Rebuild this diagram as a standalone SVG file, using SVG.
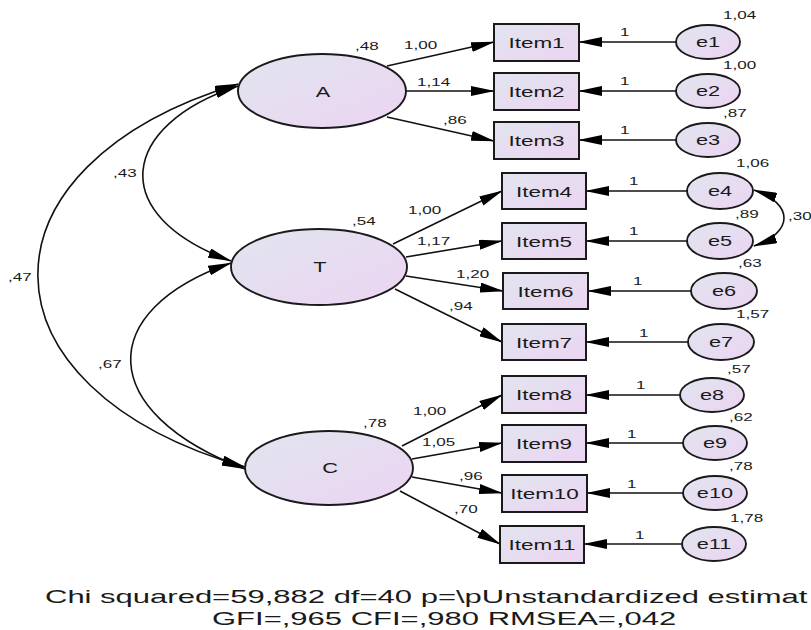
<svg xmlns="http://www.w3.org/2000/svg" width="811" height="630" viewBox="0 0 811 630">
<style>
text{font-family:"Liberation Sans",Arial,sans-serif;fill:#1a1a1a}
.s{font-size:11px}
.m{font-size:15px;text-anchor:middle}
.b{font-size:19px}
.box{fill:url(#g);stroke:#1a1a1a;stroke-width:2}
.lat{fill:url(#g);stroke:#1a1a1a;stroke-width:1.9}
.con path,.con line{fill:none;stroke:#111;stroke-width:1.6}
.one{marker-end:url(#ah)}
.two{marker-end:url(#ah);marker-start:url(#ah)}
</style>
<defs>
<linearGradient id="g" x1="0" y1="0" x2="1" y2="1">
<stop offset="0" stop-color="#e1e5ee"/>
<stop offset="1" stop-color="#ecd4f3"/>
</linearGradient>
<marker id="ah" viewBox="0 0 24 10" refX="23" refY="5" markerWidth="24" markerHeight="10" markerUnits="userSpaceOnUse" orient="auto-start-reverse">
<path d="M0,0 L24,5 L0,10 z" fill="#000"/>
</marker>
</defs>
<rect width="811" height="630" fill="#fff"/>

<g id="connectors" class="con">
<line class="one" x1="387" y1="66" x2="494" y2="42"/>
<line class="one" x1="406" y1="91" x2="494" y2="91"/>
<line class="one" x1="387" y1="117" x2="494" y2="141"/>
<line class="one" x1="393" y1="244" x2="502" y2="191"/>
<line class="one" x1="406" y1="257" x2="502" y2="241"/>
<line class="one" x1="406" y1="276" x2="503" y2="291"/>
<line class="one" x1="395" y1="289" x2="502" y2="342"/>
<line class="one" x1="402" y1="446" x2="502" y2="395"/>
<line class="one" x1="412" y1="459" x2="502" y2="443"/>
<line class="one" x1="412" y1="477" x2="502" y2="493"/>
<line class="one" x1="400" y1="491" x2="500" y2="544"/>
<line class="one" x1="676" y1="42" x2="579" y2="42"/>
<line class="one" x1="676" y1="91" x2="579" y2="91"/>
<line class="one" x1="676" y1="140" x2="579" y2="140"/>
<line class="one" x1="687" y1="191" x2="586" y2="191"/>
<line class="one" x1="687" y1="241" x2="586" y2="241"/>
<line class="one" x1="692" y1="291" x2="588" y2="291"/>
<line class="one" x1="688" y1="342" x2="586" y2="342"/>
<line class="one" x1="680" y1="395" x2="586" y2="395"/>
<line class="one" x1="683" y1="443" x2="586" y2="443"/>
<line class="one" x1="683" y1="493" x2="587" y2="493"/>
<line class="one" x1="682" y1="544" x2="584" y2="544"/>
<path class="two" d="M238,86 C120,125 105,215 231,261"/>
<path class="two" d="M238,84 C-30,165 -30,388 245,467"/>
<path class="two" d="M231,263 C95,310 95,412 245,469"/>
<path class="two" d="M754,190 C794,204 794,232 754,246"/>
<text class="s" transform="matrix(1.55 0 0 1 404 49)">1,00</text>
<text class="s" transform="matrix(1.55 0 0 1 417 86)">1,14</text>
<text class="s" transform="matrix(1.55 0 0 1 443 124)">,86</text>
<text class="s" transform="matrix(1.55 0 0 1 408 214)">1,00</text>
<text class="s" transform="matrix(1.55 0 0 1 417 245)">1,17</text>
<text class="s" transform="matrix(1.55 0 0 1 456 278)">1,20</text>
<text class="s" transform="matrix(1.55 0 0 1 449 310)">,94</text>
<text class="s" transform="matrix(1.55 0 0 1 413 415)">1,00</text>
<text class="s" transform="matrix(1.55 0 0 1 422 446)">1,05</text>
<text class="s" transform="matrix(1.55 0 0 1 459 480)">,96</text>
<text class="s" transform="matrix(1.55 0 0 1 454 513)">,70</text>
<text class="s" transform="matrix(1.55 0 0 1 620 36)">1</text>
<text class="s" transform="matrix(1.55 0 0 1 620 85)">1</text>
<text class="s" transform="matrix(1.55 0 0 1 620 134)">1</text>
<text class="s" transform="matrix(1.55 0 0 1 629 185)">1</text>
<text class="s" transform="matrix(1.55 0 0 1 629 235)">1</text>
<text class="s" transform="matrix(1.55 0 0 1 633 285)">1</text>
<text class="s" transform="matrix(1.55 0 0 1 639 337)">1</text>
<text class="s" transform="matrix(1.55 0 0 1 636 389)">1</text>
<text class="s" transform="matrix(1.55 0 0 1 627 438)">1</text>
<text class="s" transform="matrix(1.55 0 0 1 627 488)">1</text>
<text class="s" transform="matrix(1.55 0 0 1 635 539)">1</text>
<text class="s" transform="matrix(1.55 0 0 1 113 177)">,43</text>
<text class="s" transform="matrix(1.55 0 0 1 8 281)">,47</text>
<text class="s" transform="matrix(1.55 0 0 1 98 368)">,67</text>
<text class="s" transform="matrix(1.55 0 0 1 788 220)">,30</text>
</g>

<g id="A"><ellipse class="lat" cx="322" cy="91" rx="84" ry="37"/><text class="m" transform="matrix(1.45 0 0 1 323 97)">A</text><text class="s" transform="matrix(1.55 0 0 1 355 50)">,48</text></g>
<g id="T"><ellipse class="lat" cx="319" cy="267" rx="88" ry="38"/><text class="m" transform="matrix(1.45 0 0 1 320 272)">T</text><text class="s" transform="matrix(1.55 0 0 1 352 225)">,54</text></g>
<g id="C"><ellipse class="lat" cx="329" cy="468" rx="84" ry="37"/><text class="m" transform="matrix(1.45 0 0 1 330 473)">C</text><text class="s" transform="matrix(1.55 0 0 1 363 427)">,78</text></g>

<g id="Item1"><rect class="box" x="494" y="24" width="85" height="37"/><text class="m" transform="matrix(1.5 0 0 1 536.5 48)">Item1</text></g>
<g id="Item2"><rect class="box" x="494" y="73" width="85" height="37"/><text class="m" transform="matrix(1.5 0 0 1 536.5 97)">Item2</text></g>
<g id="Item3"><rect class="box" x="494" y="122" width="85" height="37"/><text class="m" transform="matrix(1.5 0 0 1 536.5 146)">Item3</text></g>
<g id="Item4"><rect class="box" x="502" y="173" width="84" height="36"/><text class="m" transform="matrix(1.5 0 0 1 544 197)">Item4</text></g>
<g id="Item5"><rect class="box" x="502" y="223" width="84" height="36"/><text class="m" transform="matrix(1.5 0 0 1 544 247)">Item5</text></g>
<g id="Item6"><rect class="box" x="503" y="273" width="85" height="36"/><text class="m" transform="matrix(1.5 0 0 1 545.5 297)">Item6</text></g>
<g id="Item7"><rect class="box" x="502" y="324" width="84" height="36"/><text class="m" transform="matrix(1.5 0 0 1 544 348)">Item7</text></g>
<g id="Item8"><rect class="box" x="502" y="376" width="84" height="37"/><text class="m" transform="matrix(1.5 0 0 1 544 400)">Item8</text></g>
<g id="Item9"><rect class="box" x="502" y="425" width="84" height="37"/><text class="m" transform="matrix(1.5 0 0 1 544 449)">Item9</text></g>
<g id="Item10"><rect class="box" x="502" y="475" width="85" height="37"/><text class="m" transform="matrix(1.5 0 0 1 544.5 499)">Item10</text></g>
<g id="Item11"><rect class="box" x="500" y="526" width="84" height="37"/><text class="m" transform="matrix(1.5 0 0 1 542 550)">Item11</text></g>

<g id="e1"><ellipse class="lat" cx="708" cy="42" rx="32" ry="17"/><text class="m" transform="matrix(1.45 0 0 1 708 47)">e1</text><text class="s" transform="matrix(1.55 0 0 1 723 19)">1,04</text></g>
<g id="e2"><ellipse class="lat" cx="708" cy="91" rx="32" ry="17"/><text class="m" transform="matrix(1.45 0 0 1 708 96)">e2</text><text class="s" transform="matrix(1.55 0 0 1 723 69)">1,00</text></g>
<g id="e3"><ellipse class="lat" cx="708" cy="140" rx="32" ry="17"/><text class="m" transform="matrix(1.45 0 0 1 708 145)">e3</text><text class="s" transform="matrix(1.55 0 0 1 723 117)">,87</text></g>
<g id="e4"><ellipse class="lat" cx="720" cy="191" rx="33" ry="18"/><text class="m" transform="matrix(1.45 0 0 1 720 196)">e4</text><text class="s" transform="matrix(1.55 0 0 1 736 167)">1,06</text></g>
<g id="e5"><ellipse class="lat" cx="720" cy="241" rx="33" ry="18"/><text class="m" transform="matrix(1.45 0 0 1 720 246)">e5</text><text class="s" transform="matrix(1.55 0 0 1 735 218)">,89</text></g>
<g id="e6"><ellipse class="lat" cx="724" cy="291" rx="33" ry="18"/><text class="m" transform="matrix(1.45 0 0 1 724 296)">e6</text><text class="s" transform="matrix(1.55 0 0 1 738 267)">,63</text></g>
<g id="e7"><ellipse class="lat" cx="721" cy="342" rx="33" ry="18"/><text class="m" transform="matrix(1.45 0 0 1 721 347)">e7</text><text class="s" transform="matrix(1.55 0 0 1 736 318)">1,57</text></g>
<g id="e8"><ellipse class="lat" cx="712" cy="395" rx="32" ry="17"/><text class="m" transform="matrix(1.45 0 0 1 712 400)">e8</text><text class="s" transform="matrix(1.55 0 0 1 727 373)">,57</text></g>
<g id="e9"><ellipse class="lat" cx="715" cy="443" rx="32" ry="17"/><text class="m" transform="matrix(1.45 0 0 1 715 448)">e9</text><text class="s" transform="matrix(1.55 0 0 1 729 421)">,62</text></g>
<g id="e10"><ellipse class="lat" cx="715" cy="493" rx="32" ry="17"/><text class="m" transform="matrix(1.45 0 0 1 715 498)">e10</text><text class="s" transform="matrix(1.55 0 0 1 729 470)">,78</text></g>
<g id="e11"><ellipse class="lat" cx="714" cy="544" rx="32" ry="17"/><text class="m" transform="matrix(1.45 0 0 1 714 549)">e11</text><text class="s" transform="matrix(1.55 0 0 1 730 522)">1,78</text></g>

<text class="b" transform="matrix(1.632 0 0 1 45 603)">Chi squared=59,882 df=40 p=\pUnstandardized estimat</text>
<text class="b" transform="matrix(1.632 0 0 1 212 625)">GFI=,965 CFI=,980 RMSEA=,042</text>
</svg>
